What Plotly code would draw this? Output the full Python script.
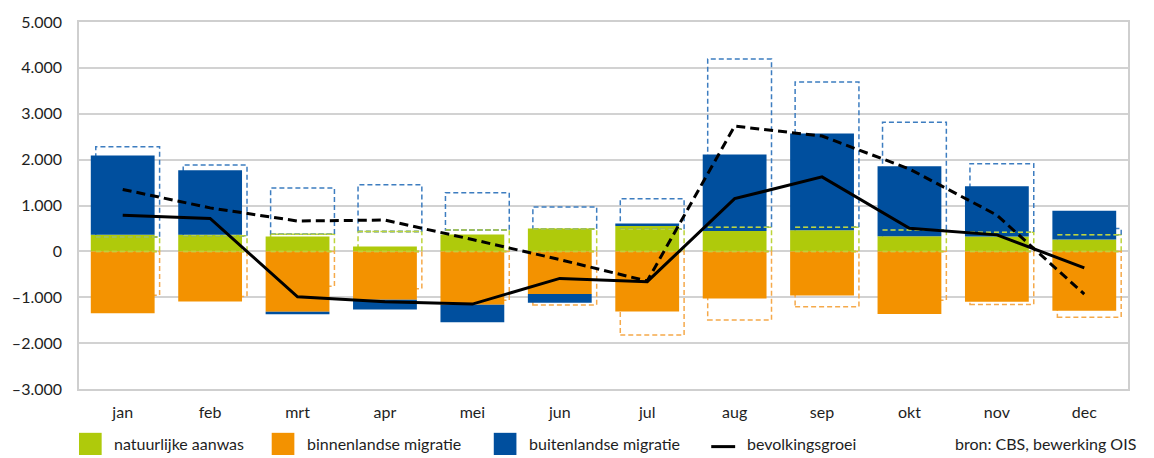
import plotly.graph_objects as go

# --- data ---
maanden = ['jan', 'feb', 'mrt', 'apr', 'mei', 'jun', 'jul', 'aug', 'sep', 'okt', 'nov', 'dec']

# current year
natuurlijk = [360, 360, 323, 108, 366, 496, 553, 446, 460, 330, 323, 259]
binnenland = [-1350, -1090, -1315, -1056, -1164, -927, -1308, -1028, -963, -1365, -1099, -1293]
buitenland = [1730, 1407, -58, -210, -381, -194, 57, 1666, 2112, 1523, 1099, 625]
groei = [790, 718, -991, -1100, -1149, -589, -661, 1149, 1624, 503, 360, -359]

# previous year (dashed)
natuurlijk_vj = [316, 338, 373, 431, 467, 489, 481, 524, 524, 467, 416, 360]
binnenland_vj = [-955, -985, -761, -812, -1063, -1170, -1825, -1494, -1207, -1063, -1157, -1437]
buitenland_vj = [1962, 1544, 1006, 1019, 811, 481, 668, 3672, 3169, 2349, 1495, 140]
groei_vj = [1350, 948, 662, 683, 259, -179, -647, 2730, 2514, 1795, 790, -933]

namen = ['natuurlijke aanwas', 'binnenlandse migratie', 'buitenlandse migratie', 'bevolkingsgroei']
bron = 'bron: CBS, bewerking OIS'

y_ticks = [-3000, -2000, -1000, 0, 1000, 2000, 3000, 4000, 5000]
y_labels = ['–3.000', '–2.000', '–1.000', '0', '1.000', '2.000', '3.000', '4.000', '5.000']

# --- styling ---
GREEN, ORANGE, BLUE = '#AFCA0B', '#F39200', '#004F9E'
GREEN_D, ORANGE_D, BLUE_D = '#BCD43A', '#F5A94A', '#3D7DC0'
FONT = 'Lato'
BAR_W = 0.73
OFFSET = 0.057  # dashed boxes sit slightly to the right

x = list(range(len(maanden)))
fig = go.Figure()

# current year stacked bars
for vals, name, col in [(natuurlijk, namen[0], GREEN), (binnenland, namen[1], ORANGE),
                        (buitenland, namen[2], BLUE)]:
    fig.add_trace(go.Bar(x=x, y=vals, name=name, marker_color=col, marker_line_width=0,
                         width=BAR_W, showlegend=False))

# previous year: stack the same way (positives up, negatives down)
pos = [0] * 12
neg = [0] * 12
boxes = []  # (series idx, month, bottom, top)
for k, vals in enumerate([natuurlijk_vj, binnenland_vj, buitenland_vj]):
    for i, v in enumerate(vals):
        if v >= 0:
            boxes.append((k, i, pos[i], pos[i] + v))
            pos[i] += v
        else:
            boxes.append((k, i, neg[i] + v, neg[i]))
            neg[i] += v

dcols = [GREEN_D, ORANGE_D, BLUE_D]
for k, i, b, t in boxes:
    fig.add_shape(type='rect', xref='x', yref='y', layer='between',
                  x0=i + OFFSET - BAR_W / 2, x1=i + OFFSET + BAR_W / 2, y0=b, y1=t,
                  line=dict(color=dcols[k], width=1.5, dash='5px,3px'),
                  fillcolor='rgba(0,0,0,0)')

# base edges of the dashed boxes show through on top of the bars
for kk in [2, 1, 0]:
    ex, ey = [], []
    for k, i, b, t in boxes:
        if k != kk:
            continue
        x0, x1 = i + OFFSET - BAR_W / 2, i + OFFSET + BAR_W / 2
        if k == 0:
            ex += [x0, x1, None, x0, x1, None]
            ey += [b, b, None, t, t, None]
        elif k == 1:
            ex += [x0, x1, None]
            ey += [t, t, None]
        else:
            ex += [x0, x1, None]
            ey += [b if b >= 0 else t, b if b >= 0 else t, None]
    fig.add_trace(go.Scatter(x=ex, y=ey, mode='lines', hoverinfo='skip', showlegend=False,
                             line=dict(color=dcols[kk], width=1.5, dash='5px,3px')))

# growth lines
fig.add_trace(go.Scatter(x=x, y=groei_vj, mode='lines', showlegend=False,
                         line=dict(color='black', width=3, dash='9px,5px')))
fig.add_trace(go.Scatter(x=x, y=groei, mode='lines', name=namen[3], showlegend=False,
                         line=dict(color='black', width=3)))

# manual legend (below the plot)
ly = -0.148
for px0, col, name in [(0.0, GREEN, namen[0]), (0.1837, ORANGE, namen[1]), (0.3954, BLUE, namen[2])]:
    fig.add_shape(type='rect', xref='paper', yref='paper', x0=px0, x1=px0 + 0.0216,
                  y0=-0.1194, y1=-0.1798, fillcolor=col, line_width=0)
    fig.add_annotation(x=px0 + 0.0314, y=ly, xref='paper', yref='paper', text=name,
                       showarrow=False, xanchor='left', yanchor='middle')
fig.add_shape(type='line', xref='paper', yref='paper', x0=0.6027, x1=0.6255,
              y0=-0.157, y1=-0.157, line=dict(color='black', width=3, dash='solid'))
fig.add_annotation(x=0.635, y=ly, xref='paper', yref='paper', text=namen[3],
                   showarrow=False, xanchor='left', yanchor='middle')
fig.add_annotation(x=0.8327, y=ly, xref='paper', yref='paper', text=bron,
                   showarrow=False, xanchor='left', yanchor='middle')

fig.update_layout(
    width=1154, height=458,
    margin=dict(l=76, r=26, t=18, b=69),
    barmode='relative',
    plot_bgcolor='white', paper_bgcolor='white',
    font=dict(family=FONT, size=16, color='#1E1E1E'),
    xaxis=dict(range=[-0.5, 11.5], tickvals=x, ticktext=maanden, showgrid=False,
               showline=True, mirror=True, linecolor='#CFCFCF', linewidth=1.5,
               ticks='', ticklabelstandoff=8, zeroline=False),
    yaxis=dict(range=[-3000, 5000], tickvals=y_ticks, ticktext=y_labels, showgrid=True,
               gridcolor='#D2D2D2', gridwidth=1.5, zeroline=True, zerolinecolor='#D2D2D2',
               zerolinewidth=1.5, showline=True, mirror=True, linecolor='#CFCFCF',
               linewidth=1.5, ticks='', ticklabelstandoff=12),
)

# drop the default page margin so the figure fills the window exactly
fig.write_html("out.html", config={'displayModeBar': False},
               post_script="document.body.style.margin='0';")
